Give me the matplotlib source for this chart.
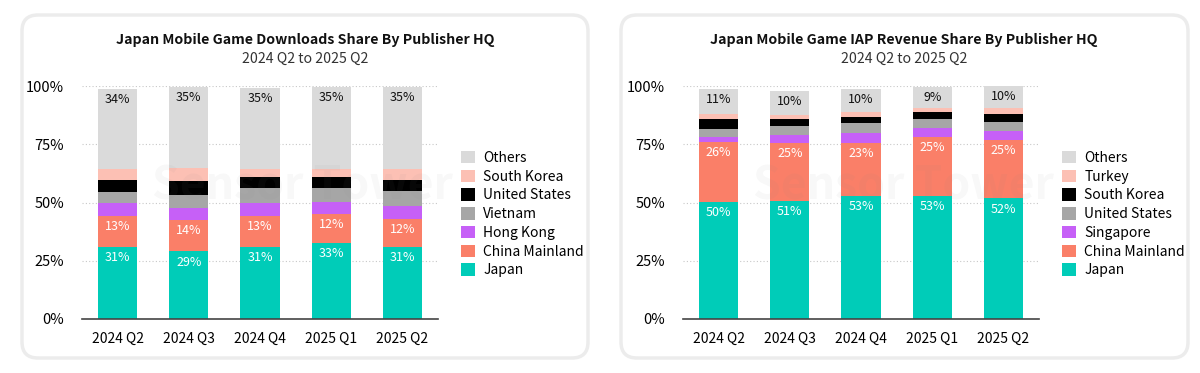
import matplotlib
matplotlib.use("Agg")
import matplotlib.pyplot as plt
from matplotlib.patches import FancyBboxPatch
import numpy as np

plt.rcParams['font.family'] = ['Noto Sans CJK JP', 'DejaVu Sans']

quarters = ['2024 Q2', '2024 Q3', '2024 Q4', '2025 Q1', '2025 Q2']

# downloads share (%), bottom to top
dl_names = ['Japan', 'China Mainland', 'Hong Kong', 'Vietnam',
            'United States', 'South Korea', 'Others']
dl_japan = [31.0, 29.0, 31.0, 32.8, 31.0]
dl_china = [13.2, 13.5, 13.2, 12.3, 11.8]
dl_hongkong = [5.7, 5.3, 5.7, 5.0, 5.8]
dl_vietnam = [4.7, 5.6, 6.2, 6.0, 6.3]
dl_us = [5.1, 6.0, 4.7, 4.7, 4.8]
dl_korea = [4.7, 5.5, 3.6, 3.6, 4.7]
dl_others = [34.2, 34.8, 34.8, 35.3, 35.3]

# IAP revenue share (%), bottom to top
rev_names = ['Japan', 'China Mainland', 'Singapore', 'United States',
             'South Korea', 'Turkey', 'Others']
rev_japan = [50.4, 50.8, 52.9, 52.9, 51.8]
rev_china = [25.6, 24.9, 22.8, 25.1, 25.0]
rev_singapore = [2.0, 3.3, 4.0, 3.8, 4.0]
rev_us = [3.5, 3.8, 4.3, 4.0, 3.9]
rev_korea = [4.3, 3.0, 2.8, 2.9, 3.1]
rev_turkey = [2.0, 1.8, 1.9, 2.0, 2.6]
rev_others = [10.8, 10.3, 9.9, 9.0, 9.6]

colors = ['#00CCB8', '#FA7F68', '#C660F7', '#A6A6A6', '#000000', '#FCC0B4', '#DADADA']
# which segments get a value label and in what colour
label_colors = {0: 'white', 1: 'white', 6: '#111111'}

fig = plt.figure(figsize=(12, 3.73), dpi=100)

# background cards (pixel coordinates)
bg = fig.add_axes([0, 0, 1, 1], zorder=-5)
bg.set_xlim(0, 1200)
bg.set_ylim(373, 0)
bg.axis('off')
for x0, x1 in [(22, 588), (621, 1188)]:
    card = FancyBboxPatch((x0, 15), x1 - x0, 343,
                          boxstyle='round,pad=0,rounding_size=16',
                          facecolor='white', edgecolor='#ececec', linewidth=2.5)
    bg.add_patch(card)


def draw_panel(ax, names, series, title, card_center):
    x = np.arange(len(quarters))
    bottom = np.zeros(len(quarters))
    handles = []
    for i, (name, vals) in enumerate(zip(names, series)):
        vals = np.array(vals)
        h = ax.bar(x, vals, 0.55, bottom=bottom, color=colors[i], label=name, zorder=3)
        handles.append(h)
        if i in label_colors:
            for xi, b, v in zip(x, bottom, vals):
                ax.text(xi, b + v - 4.6, f'{round(v):d}%', ha='center', va='center',
                        fontsize=9, color=label_colors[i], zorder=4)
        bottom += vals

    ax.set_xlim(-0.5, len(quarters) - 0.5)
    ax.set_ylim(0, 100)
    ax.set_yticks([0, 25, 50, 75, 100])
    ax.set_yticklabels(['0%', '25%', '50%', '75%', '100%'])
    ax.set_xticks(x)
    ax.set_xticklabels(quarters)
    ax.tick_params(axis='y', length=0, pad=13, labelsize=10.5)
    ax.tick_params(axis='x', length=0, pad=9, labelsize=10)
    for yv in [25, 50, 75, 100]:
        ax.axhline(yv, color='#c8c8c8', linestyle=(0, (1, 2)), linewidth=0.8, zorder=1)
    for s in ['top', 'right', 'left']:
        ax.spines[s].set_visible(False)
    ax.spines['bottom'].set_color('#444444')
    ax.spines['bottom'].set_linewidth(1.2)
    ax.spines['bottom'].set_zorder(5)

    ax.legend(handles[::-1], names[::-1], loc='center left',
              bbox_to_anchor=(1.065, 0.45), frameon=False, fontsize=10,
              handlelength=1.0, handleheight=1.0, handletextpad=0.6,
              labelspacing=0.34, borderpad=0, borderaxespad=0)

    # faint watermark
    ax.text(0.62, 0.57, 'Sensor Tower', transform=ax.transAxes, ha='center', va='center',
            fontsize=32, fontweight='bold', color='#888888', alpha=0.06, zorder=6)

    fig.text(card_center / 1200, 1 - 40 / 373, title, ha='center', va='center',
             fontsize=10.2, fontweight='bold', color='#111111')
    fig.text(card_center / 1200, 1 - 59 / 373, '2024 Q2 to 2025 Q2', ha='center',
             va='center', fontsize=10.2, color='#333333')


ax1 = fig.add_axes([82 / 1200, 54 / 373, 356 / 1200, 233 / 373])
draw_panel(ax1, dl_names,
           [dl_japan, dl_china, dl_hongkong, dl_vietnam, dl_us, dl_korea, dl_others],
           'Japan Mobile Game Downloads Share By Publisher HQ', 305)

ax2 = fig.add_axes([683 / 1200, 54 / 373, 356 / 1200, 233 / 373])
draw_panel(ax2, rev_names,
           [rev_japan, rev_china, rev_singapore, rev_us, rev_korea, rev_turkey, rev_others],
           'Japan Mobile Game IAP Revenue Share By Publisher HQ', 904)

fig.savefig('out.png', dpi=100, facecolor='white')
